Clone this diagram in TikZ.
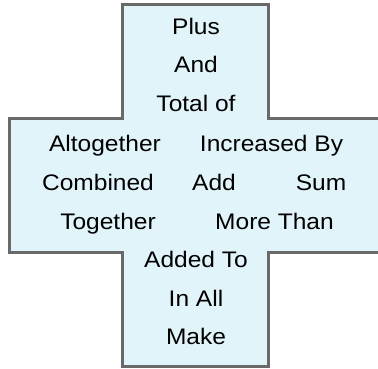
\documentclass[tikz,border=0pt]{standalone}
\usepackage{fontspec}
\setmainfont{Liberation Sans}
\definecolor{crossfill}{RGB}{224,244,250}
\definecolor{crossline}{RGB}{105,105,105}
\newcommand{\wideword}[1]{\scalebox{1.09}[1]{#1}}
\tikzset{
  word/.style={anchor=base, inner sep=0pt, font=\fontsize{22.5}{26}\selectfont, text=black},
  crossbox/.style={fill=crossfill, draw=crossline, line width=3pt, line join=miter}
}
\begin{document}
\begin{tikzpicture}[x=1pt,y=-1pt]
\useasboundingbox (0,0) rectangle (378,369);
\fill[white] (0,0) rectangle (378,369);
\draw[crossbox] (122,5) -- (268,5) -- (268,119) -- (385,119) -- (385,252) -- (268,252) -- (268,366) -- (122,366) -- (122,252) -- (9,252) -- (9,119) -- (122,119) -- cycle;
\node[word] (plus) at (196,35) {\wideword{Plus}};
\node[word] (and) at (196,73) {\wideword{And}};
\node[word] (total) at (196,112) {\wideword{Total of}};
\node[word] (alt) at (105,151) {\wideword{Altogether}};
\node[word] (inc) at (271.5,151) {\wideword{Increased By}};
\node[word] (comb) at (98,190) {\wideword{Combined}};
\node[word] (add) at (214,190) {\wideword{Add}};
\node[word] (sum) at (321,190) {\wideword{Sum}};
\node[word] (tog) at (108,229) {\wideword{Together}};
\node[word] (more) at (274.5,229) {\wideword{More Than}};
\node[word] (addto) at (196,267) {\wideword{Added To}};
\node[word] (inall) at (196,306) {\wideword{In All}};
\node[word] (make) at (196,344) {\wideword{Make}};
\end{tikzpicture}
\end{document}
